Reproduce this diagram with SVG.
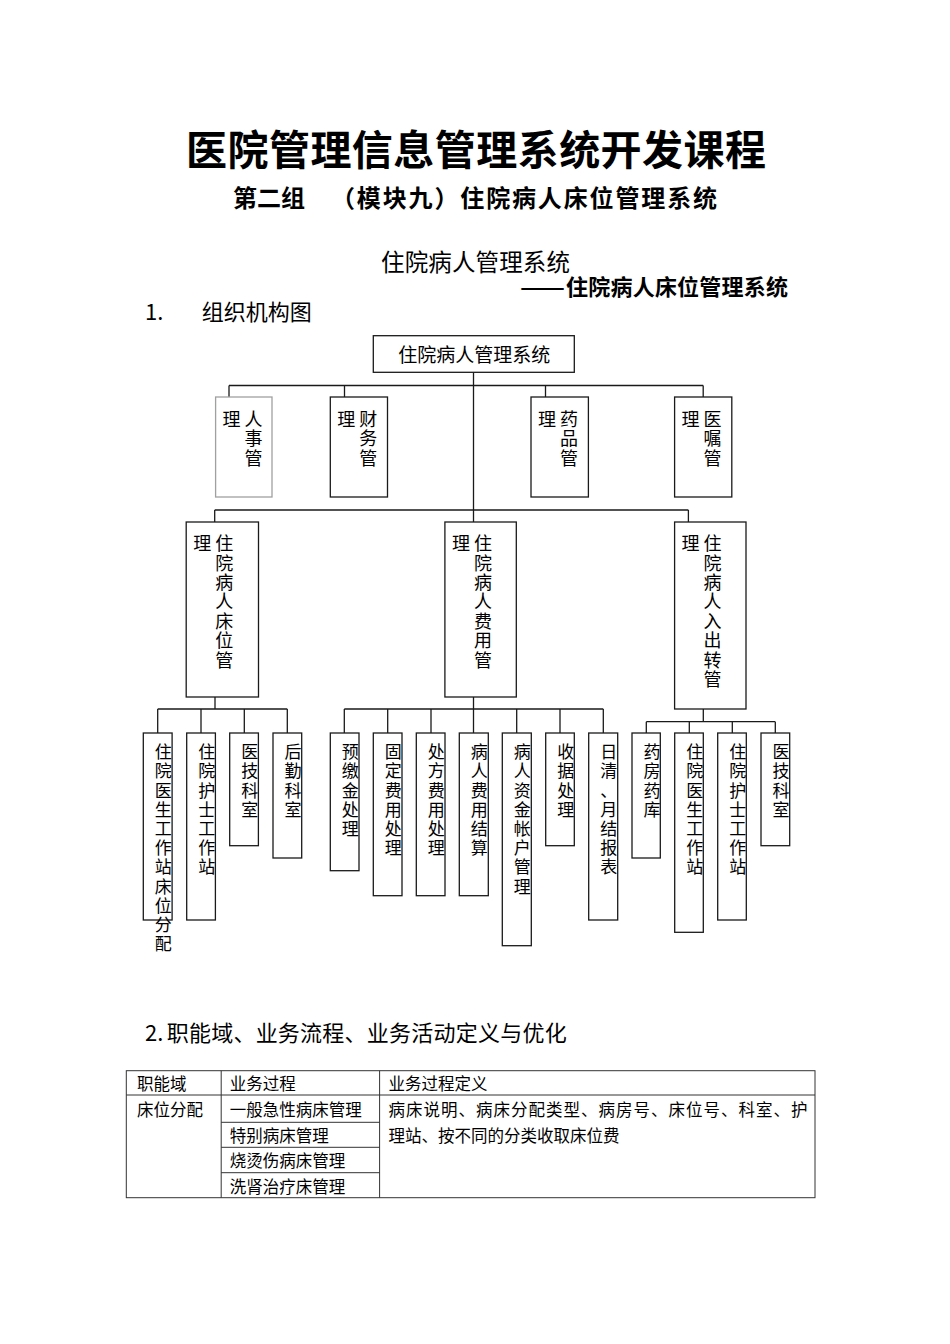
<svg xmlns="http://www.w3.org/2000/svg" width="950" height="1344" viewBox="0 0 950 1344">
<style>
text{font-family:"Noto Sans CJK SC","Noto Sans",sans-serif;fill:#000}
.title{font-size:41px;font-weight:700}
.sub{font-size:24px;font-weight:700}
.h1{font-size:23.5px}
.h2{font-size:22px;font-weight:700}
.sec{font-size:22px}
.n0{font-size:19px}
.n{font-size:18px;text-anchor:middle}
.s{font-size:17px;text-anchor:middle}
.tb{font-size:16.5px}
.box{fill:#fff;stroke:#1a1a1a;stroke-width:1.3}
.grey{fill:#fff;stroke:#a0a0a0;stroke-width:1.3}
.conn{fill:none;stroke:#1a1a1a;stroke-width:1.3}
.tl{fill:none;stroke:#333;stroke-width:1}
</style>
<rect width="950" height="1344" fill="#fff"/>

<g id="headings">
<text class="title" x="186" y="164.5" textLength="580">医院管理信息管理系统开发课程</text>
<text class="sub" x="233" y="206.5">第二组</text>
<text class="sub" x="331" y="206.5" textLength="386">（模块九）住院病人床位管理系统</text>
<text class="h1" x="381" y="270.5" textLength="189">住院病人管理系统</text>
<text class="h2" x="520" y="295" textLength="45" lengthAdjust="spacingAndGlyphs">——</text>
<text class="h2" x="566" y="295" textLength="222">住院病人床位管理系统</text>
<text class="sec" x="145" y="320" font-size="20">1.</text>
<text class="sec" x="201.7" y="320" textLength="110">组织机构图</text>
</g>

<g id="connectors">
<path class="conn" d="M473.5 372.3V522"/>
<path class="conn" d="M229 385.5H703.2M229 385.5V397M344.5 385.5V397M545.5 385.5V397M703.2 385.5V397"/>
<path class="conn" d="M214.7 510H688.4M214.7 510V522M688.4 510V522"/>
<path class="conn" d="M215 697V709M157.7 709H287.3M157.7 709V733M201 709V733M244.3 709V733M287.3 709V733"/>
<path class="conn" d="M473.5 697V709M344.3 709H603.3M344.3 709V733M387.7 709V733M431 709V733M473.5 709V733M516.7 709V733M560 709V733M603.3 709V733"/>
<path class="conn" d="M703.3 709V721.7M646.3 721.7H775.3M646.3 721.7V733M689.3 721.7V733M732.3 721.7V733M775.3 721.7V733"/>
</g>

<g id="root">
<rect class="box" x="373.3" y="335.7" width="201" height="36.6"/>
<text class="n0" x="398.3" y="362" textLength="152">住院病人管理系统</text>
</g>

<g id="renshi">
<rect class="grey" x="215.6" y="397" width="56.4" height="100"/>
<text class="n" x="231.6" y="426">理</text>
<text class="n" x="253.6 253.6 253.6" y="426 445.3 464.6">人事管</text>
</g>
<g id="caiwu">
<rect class="box" x="330.3" y="397" width="57.2" height="100"/>
<text class="n" x="346.3" y="426">理</text>
<text class="n" x="368.3 368.3 368.3" y="426 445.3 464.6">财务管</text>
</g>
<g id="yaopin">
<rect class="box" x="531" y="397" width="57.4" height="100"/>
<text class="n" x="547" y="426">理</text>
<text class="n" x="569 569 569" y="426 445.3 464.6">药品管</text>
</g>
<g id="yizhu">
<rect class="box" x="674.6" y="397" width="57.2" height="100"/>
<text class="n" x="690.6" y="426">理</text>
<text class="n" x="712.6 712.6 712.6" y="426 445.3 464.6">医嘱管</text>
</g>

<g id="chuangwei">
<rect class="box" x="186.2" y="522" width="72.3" height="175"/>
<text class="n" x="202.2" y="550">理</text>
<text class="n" x="224.2 224.2 224.2 224.2 224.2 224.2 224.2" y="550 569.5 589 608.4 627.8 647.3 666.7">住院病人床位管</text>
</g>
<g id="feiyong">
<rect class="box" x="444.9" y="522" width="71.4" height="175"/>
<text class="n" x="460.9" y="550">理</text>
<text class="n" x="482.9 482.9 482.9 482.9 482.9 482.9 482.9" y="550 569.5 589 608.4 627.8 647.3 666.7">住院病人费用管</text>
</g>
<g id="ruchuzhuan">
<rect class="box" x="674.6" y="522" width="71.4" height="187"/>
<text class="n" x="690.6" y="550">理</text>
<text class="n" x="712.6 712.6 712.6 712.6 712.6 712.6 712.6 712.6" y="550 569.5 589 608.4 627.8 647.3 666.7 686.2">住院病人入出转管</text>
</g>

<g id="b1">
<rect class="box" x="143.3" y="733" width="28.8" height="187"/>
<text class="s" x="163.3 163.3 163.3 163.3 163.3 163.3 163.3 163.3 163.3 163.3 163.3" y="758.2 777.4 796.6 815.8 835 854.2 873.4 892.6 911.8 931 950.2">住院医生工作站床位分配</text>
</g>
<g id="b2">
<rect class="box" x="186.7" y="733" width="28.7" height="187"/>
<text class="s" x="206.7 206.7 206.7 206.7 206.7 206.7 206.7" y="758.2 777.4 796.6 815.8 835 854.2 873.4">住院护士工作站</text>
</g>
<g id="b3">
<rect class="box" x="229.7" y="733" width="28.7" height="112.7"/>
<text class="s" x="249.7 249.7 249.7 249.7" y="758.2 777.4 796.6 815.8">医技科室</text>
</g>
<g id="b4">
<rect class="box" x="273" y="733" width="28.7" height="125"/>
<text class="s" x="293 293 293 293" y="758.2 777.4 796.6 815.8">后勤科室</text>
</g>
<g id="b5">
<rect class="box" x="330.3" y="733" width="28.7" height="137.7"/>
<text class="s" x="350.3 350.3 350.3 350.3 350.3" y="758.2 777.4 796.6 815.8 835">预缴金处理</text>
</g>
<g id="b6">
<rect class="box" x="373.3" y="733" width="28.7" height="162.7"/>
<text class="s" x="393.3 393.3 393.3 393.3 393.3 393.3" y="758.2 777.4 796.6 815.8 835 854.2">固定费用处理</text>
</g>
<g id="b7">
<rect class="box" x="416.3" y="733" width="28.7" height="162.7"/>
<text class="s" x="436.3 436.3 436.3 436.3 436.3 436.3" y="758.2 777.4 796.6 815.8 835 854.2">处方费用处理</text>
</g>
<g id="b8">
<rect class="box" x="459.3" y="733" width="29" height="162.7"/>
<text class="s" x="479.3 479.3 479.3 479.3 479.3 479.3" y="758.2 777.4 796.6 815.8 835 854.2">病人费用结算</text>
</g>
<g id="b9">
<rect class="box" x="502.3" y="733" width="29" height="212.7"/>
<text class="s" x="522.3 522.3 522.3 522.3 522.3 522.3 522.3 522.3" y="758.2 777.4 796.6 815.8 835 854.2 873.4 892.6">病人资金帐户管理</text>
</g>
<g id="b10">
<rect class="box" x="545.7" y="733" width="28.6" height="112.7"/>
<text class="s" x="565.7 565.7 565.7 565.7" y="758.2 777.4 796.6 815.8">收据处理</text>
</g>
<g id="b11">
<rect class="box" x="588.7" y="733" width="29" height="187"/>
<text class="s" x="608.7 608.7 608.7 608.7 608.7 608.7 608.7" y="758.2 777.4 796.6 815.8 835 854.2 873.4">日清、月结报表</text>
</g>
<g id="b12">
<rect class="box" x="632" y="733" width="28.3" height="125"/>
<text class="s" x="652 652 652 652" y="758.2 777.4 796.6 815.8">药房药库</text>
</g>
<g id="b13">
<rect class="box" x="674.7" y="733" width="28.6" height="199.3"/>
<text class="s" x="694.7 694.7 694.7 694.7 694.7 694.7 694.7" y="758.2 777.4 796.6 815.8 835 854.2 873.4">住院医生工作站</text>
</g>
<g id="b14">
<rect class="box" x="717.7" y="733" width="28.6" height="187"/>
<text class="s" x="737.7 737.7 737.7 737.7 737.7 737.7 737.7" y="758.2 777.4 796.6 815.8 835 854.2 873.4">住院护士工作站</text>
</g>
<g id="b15">
<rect class="box" x="761" y="733" width="28.7" height="112.7"/>
<text class="s" x="781 781 781 781" y="758.2 777.4 796.6 815.8">医技科室</text>
</g>

<g id="section2">
<text class="sec" x="145" y="1041">2.</text>
<text class="sec" x="166.7" y="1041" font-size="22.5" textLength="400">职能域、业务流程、业务活动定义与优化</text>
</g>

<g id="table">
<rect class="tl" x="126.3" y="1070.7" width="688.7" height="127"/>
<path class="tl" d="M126.3 1095H815M221.2 1070.7V1197.7M379.6 1070.7V1197.7M221.2 1122.3H379.6M221.2 1147.3H379.6M221.2 1172.7H379.6"/>
<text class="tb" x="137" y="1090.3">职能域</text>
<text class="tb" x="229.7" y="1090.3">业务过程</text>
<text class="tb" x="388.6" y="1090.3">业务过程定义</text>
<text class="tb" x="137" y="1116.3">床位分配</text>
<text class="tb" x="229.7" y="1116.3">一般急性病床管理</text>
<text class="tb" x="229.7" y="1142.3">特别病床管理</text>
<text class="tb" x="229.7" y="1167.3">烧烫伤病床管理</text>
<text class="tb" x="229.7" y="1193">洗肾治疗床管理</text>
<text class="tb" x="388.6" y="1116.3" textLength="419">病床说明、病床分配类型、病房号、床位号、科室、护</text>
<text class="tb" x="388.6" y="1142.3">理站、按不同的分类收取床位费</text>
</g>
</svg>
